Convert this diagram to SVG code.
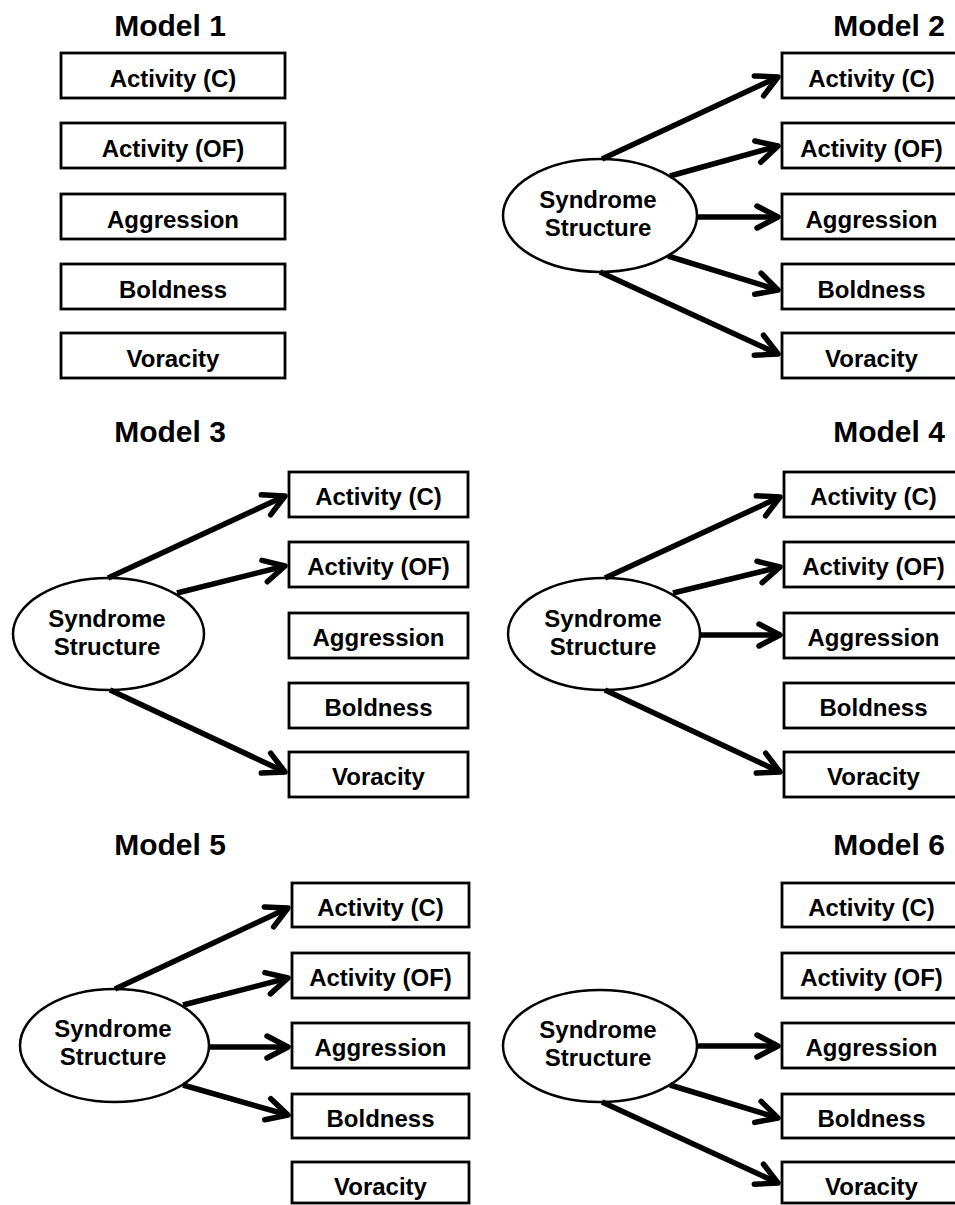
<svg xmlns="http://www.w3.org/2000/svg" width="955" height="1205" viewBox="0 0 955 1205">
<style>
.t{font-family:"Liberation Sans",Arial,Helvetica,sans-serif;font-weight:bold;fill:#000;text-anchor:middle}
.title{font-size:30px}
.lbl{font-size:24px}
.box{fill:#fff;stroke:#000;stroke-width:2.8}
.ell{fill:#fff;stroke:#000;stroke-width:2.5}
.arr{stroke:#000;stroke-width:5.5;fill:none;marker-end:url(#ah)}
</style>
<defs>
<marker id="ah" viewBox="-26 -15 30 30" refX="0" refY="0" markerWidth="30" markerHeight="30" markerUnits="userSpaceOnUse" orient="auto" overflow="visible">
<path d="M-21,-11 L0,0 L-21,11" fill="none" stroke="#000" stroke-width="5.5" stroke-linejoin="round" stroke-linecap="round"/>
</marker>
</defs>
<rect width="955" height="1205" fill="#fff"/>

<g id="model1">
<text class="t title" x="170" y="36">Model 1</text>
<g id="m1-actc"><rect class="box" x="61" y="53" width="224" height="45"/><text class="t lbl" x="173" y="87">Activity (C)</text></g>
<g id="m1-actof"><rect class="box" x="61" y="123" width="224" height="45"/><text class="t lbl" x="173" y="157">Activity (OF)</text></g>
<g id="m1-agg"><rect class="box" x="61" y="194" width="224" height="45"/><text class="t lbl" x="173" y="228">Aggression</text></g>
<g id="m1-bold"><rect class="box" x="61" y="264" width="224" height="45"/><text class="t lbl" x="173" y="298">Boldness</text></g>
<g id="m1-vor"><rect class="box" x="61" y="333" width="224" height="45"/><text class="t lbl" x="173" y="367">Voracity</text></g>
</g>

<g id="model2">
<text class="t title" x="889" y="36">Model 2</text>
<g id="m2-ss"><ellipse class="ell" cx="600" cy="215.5" rx="97" ry="56.5"/><text class="t lbl" x="598" y="208">Syndrome</text><text class="t lbl" x="598" y="236">Structure</text></g>
<g id="m2-actc"><rect class="box" x="782" y="53" width="179" height="45"/><text class="t lbl" x="871.5" y="87">Activity (C)</text></g>
<g id="m2-actof"><rect class="box" x="782" y="123" width="179" height="45"/><text class="t lbl" x="871.5" y="157">Activity (OF)</text></g>
<g id="m2-agg"><rect class="box" x="782" y="194" width="179" height="45"/><text class="t lbl" x="871.5" y="228">Aggression</text></g>
<g id="m2-bold"><rect class="box" x="782" y="264" width="179" height="45"/><text class="t lbl" x="871.5" y="298">Boldness</text></g>
<g id="m2-vor"><rect class="box" x="782" y="333" width="179" height="45"/><text class="t lbl" x="871.5" y="367">Voracity</text></g>
</g>

<g id="model3">
<text class="t title" x="170" y="442">Model 3</text>
<g id="m3-ss"><ellipse class="ell" cx="108.5" cy="634" rx="95.5" ry="56"/><text class="t lbl" x="107" y="627">Syndrome</text><text class="t lbl" x="107" y="655">Structure</text></g>
<g id="m3-actc"><rect class="box" x="289" y="472" width="179" height="45"/><text class="t lbl" x="378.5" y="505">Activity (C)</text></g>
<g id="m3-actof"><rect class="box" x="289" y="542" width="179" height="45"/><text class="t lbl" x="378.5" y="575">Activity (OF)</text></g>
<g id="m3-agg"><rect class="box" x="289" y="613" width="179" height="45"/><text class="t lbl" x="378.5" y="646">Aggression</text></g>
<g id="m3-bold"><rect class="box" x="289" y="683" width="179" height="45"/><text class="t lbl" x="378.5" y="716">Boldness</text></g>
<g id="m3-vor"><rect class="box" x="289" y="752" width="179" height="45"/><text class="t lbl" x="378.5" y="785">Voracity</text></g>
</g>

<g id="model4">
<text class="t title" x="889" y="442">Model 4</text>
<g id="m4-ss"><ellipse class="ell" cx="604" cy="634" rx="96" ry="56"/><text class="t lbl" x="603" y="627">Syndrome</text><text class="t lbl" x="603" y="655">Structure</text></g>
<g id="m4-actc"><rect class="box" x="784" y="472" width="179" height="45"/><text class="t lbl" x="873.5" y="505">Activity (C)</text></g>
<g id="m4-actof"><rect class="box" x="784" y="542" width="179" height="45"/><text class="t lbl" x="873.5" y="575">Activity (OF)</text></g>
<g id="m4-agg"><rect class="box" x="784" y="613" width="179" height="45"/><text class="t lbl" x="873.5" y="646">Aggression</text></g>
<g id="m4-bold"><rect class="box" x="784" y="683" width="179" height="45"/><text class="t lbl" x="873.5" y="716">Boldness</text></g>
<g id="m4-vor"><rect class="box" x="784" y="752" width="179" height="45"/><text class="t lbl" x="873.5" y="785">Voracity</text></g>
</g>

<g id="model5">
<text class="t title" x="170" y="855">Model 5</text>
<g id="m5-ss"><ellipse class="ell" cx="114.5" cy="1045.5" rx="94.5" ry="56.5"/><text class="t lbl" x="113" y="1037">Syndrome</text><text class="t lbl" x="113" y="1065">Structure</text></g>
<g id="m5-actc"><rect class="box" x="292" y="883" width="177" height="44"/><text class="t lbl" x="380.5" y="916">Activity (C)</text></g>
<g id="m5-actof"><rect class="box" x="292" y="953" width="177" height="45"/><text class="t lbl" x="380.5" y="986">Activity (OF)</text></g>
<g id="m5-agg"><rect class="box" x="292" y="1023" width="177" height="45"/><text class="t lbl" x="380.5" y="1056">Aggression</text></g>
<g id="m5-bold"><rect class="box" x="292" y="1094" width="177" height="44"/><text class="t lbl" x="380.5" y="1127">Boldness</text></g>
<g id="m5-vor"><rect class="box" x="292" y="1162" width="177" height="41"/><text class="t lbl" x="380.5" y="1195">Voracity</text></g>
</g>

<g id="model6">
<text class="t title" x="889" y="855">Model 6</text>
<g id="m6-ss"><ellipse class="ell" cx="600" cy="1046" rx="97" ry="56"/><text class="t lbl" x="598" y="1038">Syndrome</text><text class="t lbl" x="598" y="1066">Structure</text></g>
<g id="m6-actc"><rect class="box" x="782" y="883" width="179" height="44"/><text class="t lbl" x="871.5" y="916">Activity (C)</text></g>
<g id="m6-actof"><rect class="box" x="782" y="953" width="179" height="45"/><text class="t lbl" x="871.5" y="986">Activity (OF)</text></g>
<g id="m6-agg"><rect class="box" x="782" y="1023" width="179" height="45"/><text class="t lbl" x="871.5" y="1056">Aggression</text></g>
<g id="m6-bold"><rect class="box" x="782" y="1094" width="179" height="44"/><text class="t lbl" x="871.5" y="1127">Boldness</text></g>
<g id="m6-vor"><rect class="box" x="782" y="1162" width="179" height="41"/><text class="t lbl" x="871.5" y="1195">Voracity</text></g>
</g>

<g id="connectors">
<line class="arr" x1="602" y1="159" x2="778" y2="77"/>
<line class="arr" x1="670" y1="176" x2="778" y2="146"/>
<line class="arr" x1="697" y1="217" x2="778" y2="217"/>
<line class="arr" x1="668" y1="256" x2="778" y2="290"/>
<line class="arr" x1="600" y1="272" x2="778" y2="354"/>

<line class="arr" x1="108" y1="578" x2="285" y2="496"/>
<line class="arr" x1="177" y1="593" x2="285" y2="566"/>
<line class="arr" x1="110" y1="690" x2="285" y2="772"/>

<line class="arr" x1="605" y1="578" x2="780" y2="497"/>
<line class="arr" x1="673" y1="593" x2="780" y2="567"/>
<line class="arr" x1="700" y1="635" x2="780" y2="635"/>
<line class="arr" x1="605" y1="690" x2="780" y2="772"/>

<line class="arr" x1="115" y1="989" x2="288" y2="908"/>
<line class="arr" x1="183" y1="1005" x2="288" y2="978"/>
<line class="arr" x1="209" y1="1047" x2="288" y2="1047"/>
<line class="arr" x1="183" y1="1085" x2="288" y2="1115"/>

<line class="arr" x1="697" y1="1046" x2="778" y2="1046"/>
<line class="arr" x1="670" y1="1085" x2="778" y2="1118"/>
<line class="arr" x1="602" y1="1102" x2="778" y2="1183"/>
</g>
</svg>
